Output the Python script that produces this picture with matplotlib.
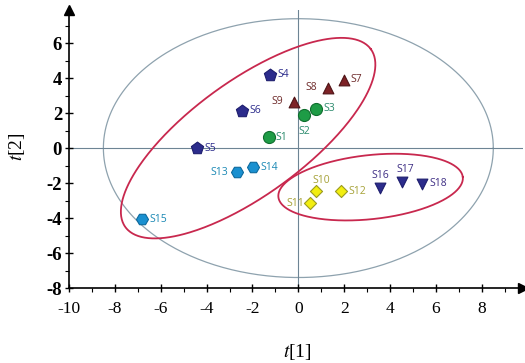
import numpy as np
import matplotlib
matplotlib.use("Agg")
import matplotlib.pyplot as plt

plt.rcParams['font.family'] = ['Liberation Serif', 'DejaVu Serif']
plt.rcParams['mathtext.fontset'] = 'stix'
plt.rcParams['axes.unicode_minus'] = False

# score values per sample (t[1], t[2])
samples = ['S1', 'S2', 'S3', 'S4', 'S5', 'S6', 'S7', 'S8', 'S9',
           'S10', 'S11', 'S12', 'S13', 'S14', 'S15', 'S16', 'S17', 'S18']
t1 = [-1.3, 0.26, 0.79, -1.22, -4.4, -2.45, 1.97, 1.3, -0.2,
      0.79, 0.52, 1.88, -2.66, -1.96, -6.8, 3.54, 4.54, 5.4]
t2 = [0.63, 1.9, 2.24, 4.2, 0.0, 2.13, 3.9, 3.45, 2.65,
      -2.47, -3.16, -2.47, -1.38, -1.09, -4.08, -2.3, -1.95, -2.05]

# group styling: marker, face, edge, label colour
groups = {
    'circle':   (['S1', 'S2', 'S3'], 'o', '#1e9c46', '#0f6e2e', '#2a8a6c'),
    'pentagon': (['S4', 'S5', 'S6'], 'p', '#2c2c8c', '#1e1e6e', '#2c2c8c'),
    'triangle': (['S7', 'S8', 'S9'], '^', '#7d2226', '#4e1416', '#6e2a2a'),
    'diamond':  (['S10', 'S11', 'S12'], 'D', '#f2ee10', '#9a9a20', '#a6a238'),
    'hexagon':  (['S13', 'S14', 'S15'], 'H', '#1a90d0', '#0d6a9e', '#1a88b4'),
    'down':     (['S16', 'S17', 'S18'], 'v', '#2c2c8c', '#1e1e6e', '#3e2e84'),
}
sizes = {'o': 75, 'p': 85, '^': 60, 'D': 38, 'H': 75, 'v': 60}

# label offsets in points
offsets = {'S2': (-4, -12), 'S8': (-16, 0), 'S9': (-16, 0), 'S13': (-19, 0),
           'S11': (-17, 0), 'S10': (-3, 8), 'S16': (-6, 9), 'S17': (-4, 9)}

# Hotelling ellipse radii and the two group ellipses (centre, axis vectors)
t2_radii = (8.5, 7.4)
ell_a = ((-2.19, 0.57), (5.35, 5.09), (-1.47, 2.64))
ell_b = ((3.15, -2.23), (4.02, 0.57), (-0.15, 1.82))

fig = plt.figure(figsize=(5.25, 3.63), dpi=100)
ax = fig.add_axes([0.1314, 0.2066, 0.865, 0.766])
ax.set_xlim(-10, 9.8)
ax.set_ylim(-8, 7.9)

ang = np.linspace(0, 2 * np.pi, 400)
ax.plot(t2_radii[0] * np.cos(ang), t2_radii[1] * np.sin(ang),
        color='#8ea2ae', lw=0.9, zorder=1)
for (c, u, v) in (ell_a, ell_b):
    ax.plot(c[0] + u[0] * np.cos(ang) + v[0] * np.sin(ang),
            c[1] + u[1] * np.cos(ang) + v[1] * np.sin(ang),
            color='#c8284e', lw=1.3, zorder=2)

ax.axhline(0, color='#6d8494', lw=0.8, zorder=1)
ax.axvline(0, color='#6d8494', lw=0.8, zorder=1)

lab_font = ['Open Sans', 'DejaVu Sans']
for name, (members, mk, face, edge, lcol) in groups.items():
    idx = [samples.index(m) for m in members]
    ax.scatter([t1[i] for i in idx], [t2[i] for i in idx], marker=mk,
               s=sizes[mk], c=face, edgecolors=edge, linewidths=0.8, zorder=4)
    for i in idx:
        dx, dy = offsets.get(samples[i], (5, 0))
        ax.annotate(samples[i], (t1[i], t2[i]), xytext=(dx, dy),
                    textcoords='offset points', fontsize=7.5, color=lcol,
                    family=lab_font, va='center', ha='left', zorder=5)

for side in ('top', 'right'):
    ax.spines[side].set_visible(False)
for side in ('left', 'bottom'):
    ax.spines[side].set_linewidth(1.2)
    ax.spines[side].set_color('black')

# arrow heads on the axes
ax.plot(1, 0, '>k', ms=7, transform=ax.transAxes, clip_on=False)
ax.plot(0, 1, '^k', ms=7, transform=ax.transAxes, clip_on=False)

ax.set_xticks(range(-10, 9, 2))
ax.set_yticks(range(-8, 7, 2))
ax.set_xticks(range(-10, 10), minor=True)
ax.set_yticks(range(-8, 8), minor=True)
ax.tick_params(which='major', direction='inout', length=6, width=1)
ax.tick_params(which='minor', direction='out', length=3, width=0.8)
ax.tick_params(axis='x', labelsize=12.5, pad=6)
ax.tick_params(axis='y', labelsize=13.5, pad=2)
for lbl in ax.get_yticklabels():
    lbl.set_fontweight('bold')

fig.text(297 / 525, 1 - 352 / 363, r'$t$[1]', fontsize=14, ha='center', va='center')
fig.text(17 / 525, 1 - 147 / 363, r'$t$[2]', fontsize=14, ha='center', va='center',
         rotation=90)

fig.savefig('out.png', dpi=100)
